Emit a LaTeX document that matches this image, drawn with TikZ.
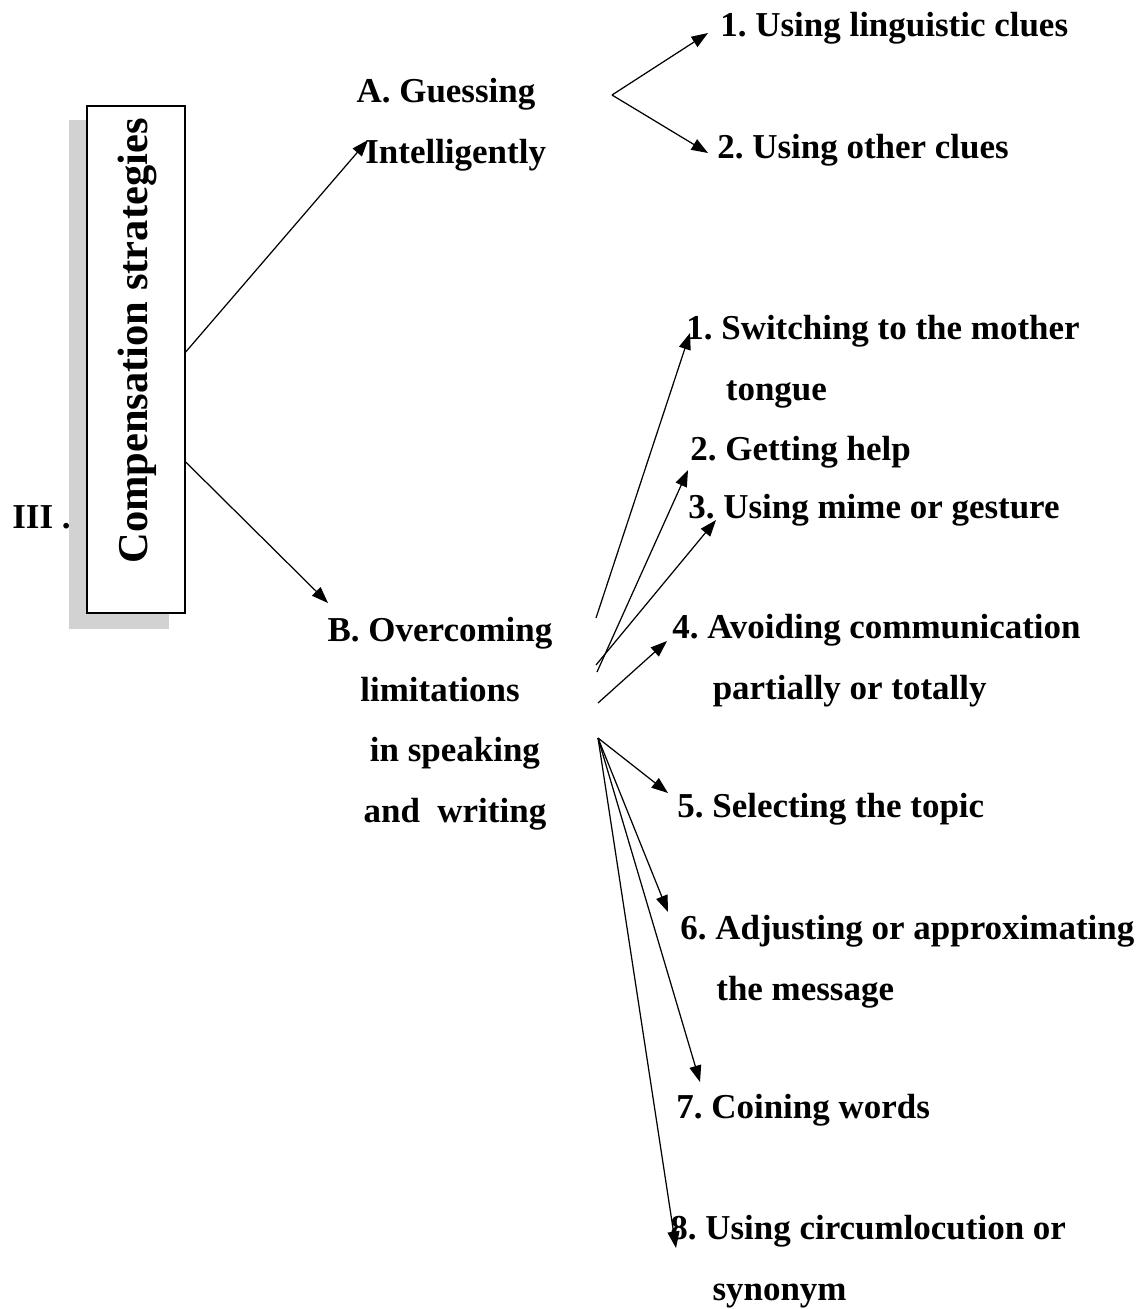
\documentclass[tikz,border=0pt]{standalone}
\usepackage{fontspec}
\setmainfont{Liberation Serif}
\usetikzlibrary{arrows.meta,backgrounds}
\frenchspacing

\begin{document}
\begin{tikzpicture}[x=0.02cm, y=-0.02cm,
  item/.style={font=\fontsize{19.9}{34.6}\selectfont\bfseries, inner sep=0pt, anchor=base west, align=left},
  branch/.style={font=\fontsize{19.9}{34.2}\selectfont\bfseries, inner sep=0pt, anchor=base, align=center},
  frame/.style={draw, fill=white, line width=0.8pt, minimum width=1.96cm, minimum height=10.14cm, inner sep=0pt},
  title/.style={font=\fontsize{24.2}{28}\selectfont\bfseries, rotate=90, inner sep=0pt},
  arr/.style={-{Triangle[length=3.3mm,width=2.4mm]}, line width=0.7pt}
]
\useasboundingbox (0,0) rectangle (1145,1309);
\node[frame] (box) at (136,359.5) {};
\node[title] (comp) at (137,341) {Compensation strategies};
\node[item] (num) at (12,528) {III .};
\begin{scope}[on background layer]
  \fill[gray!35] ([shift={(-17,15)}]box.south west) rectangle ([shift={(-17,15)}]box.north east);
\end{scope}

\node[branch] (guess) at (446,163) {A. Guessing\\\hspace*{11pt}Intelligently};
\node[branch] (over) at (440,822) {B. Overcoming\\limitations\\\hspace*{17pt}in speaking\\\hspace*{17pt}and~ writing};

\node[item] (ling) at (720,36) {1. Using linguistic clues};
\node[item] (other) at (717,158) {2. Using other clues};

\node[item] (switch) at (686,400) {1. Switching to the mother\\\hspace*{22.5pt}tongue};
\node[item] (help) at (690,460) {2. Getting help};
\node[item] (mime) at (688,518) {3. Using mime or gesture};
\node[item] (avoid) at (672,699) {4. Avoiding communication\\\hspace*{23pt}partially or totally};
\node[item] (topic) at (677,817) {5. Selecting the topic};
\node[item] (adjust) at (680,1000) {6. Adjusting or approximating\\\hspace*{20.5pt}the message};
\node[item] (coin) at (676,1118) {7. Coining words};
\node[item] (circum) at (670,1300) {8. Using circumlocution or\\\hspace*{24pt}synonym};

\coordinate (forkA) at (612,95);
\coordinate (fromB1) at (596,618);
\coordinate (fromB2) at (597,672);
\coordinate (fromB3) at (596,665);
\coordinate (fromB4) at (598,703);
\coordinate (fromB5) at (598,738);

\draw[arr] ([shift={(0,-7.5)}]box.east) -- ([shift={(-78,-23)}]guess.base);
\draw[arr] ([shift={(0,102.5)}]box.east) -- ([shift={(-112,-219)}]over.base);
\draw[arr] (forkA) -- ([shift={(-12,-3)}]ling.base west);
\draw[arr] (forkA) -- ([shift={(-9,-5)}]other.base west);
\draw[arr] (fromB1) -- ([shift={(4,-67)}]switch.base west);
\draw[arr] (fromB2) -- ([shift={(-2,10)}]help.base west);
\draw[arr] (fromB3) -- ([shift={(28,2)}]mime.base west);
\draw[arr] (fromB4) -- ([shift={(-5,-58)}]avoid.base west);
\draw[arr] (fromB5) -- ([shift={(-9,-24)}]topic.base west);
\draw[arr] (fromB5) -- ([shift={(-12,-88)}]adjust.base west);
\draw[arr] (fromB5) -- ([shift={(24,-36)}]coin.base west);
\draw[arr] (fromB5) -- ([shift={(6,-52)}]circum.base west);
\end{tikzpicture}
\end{document}
